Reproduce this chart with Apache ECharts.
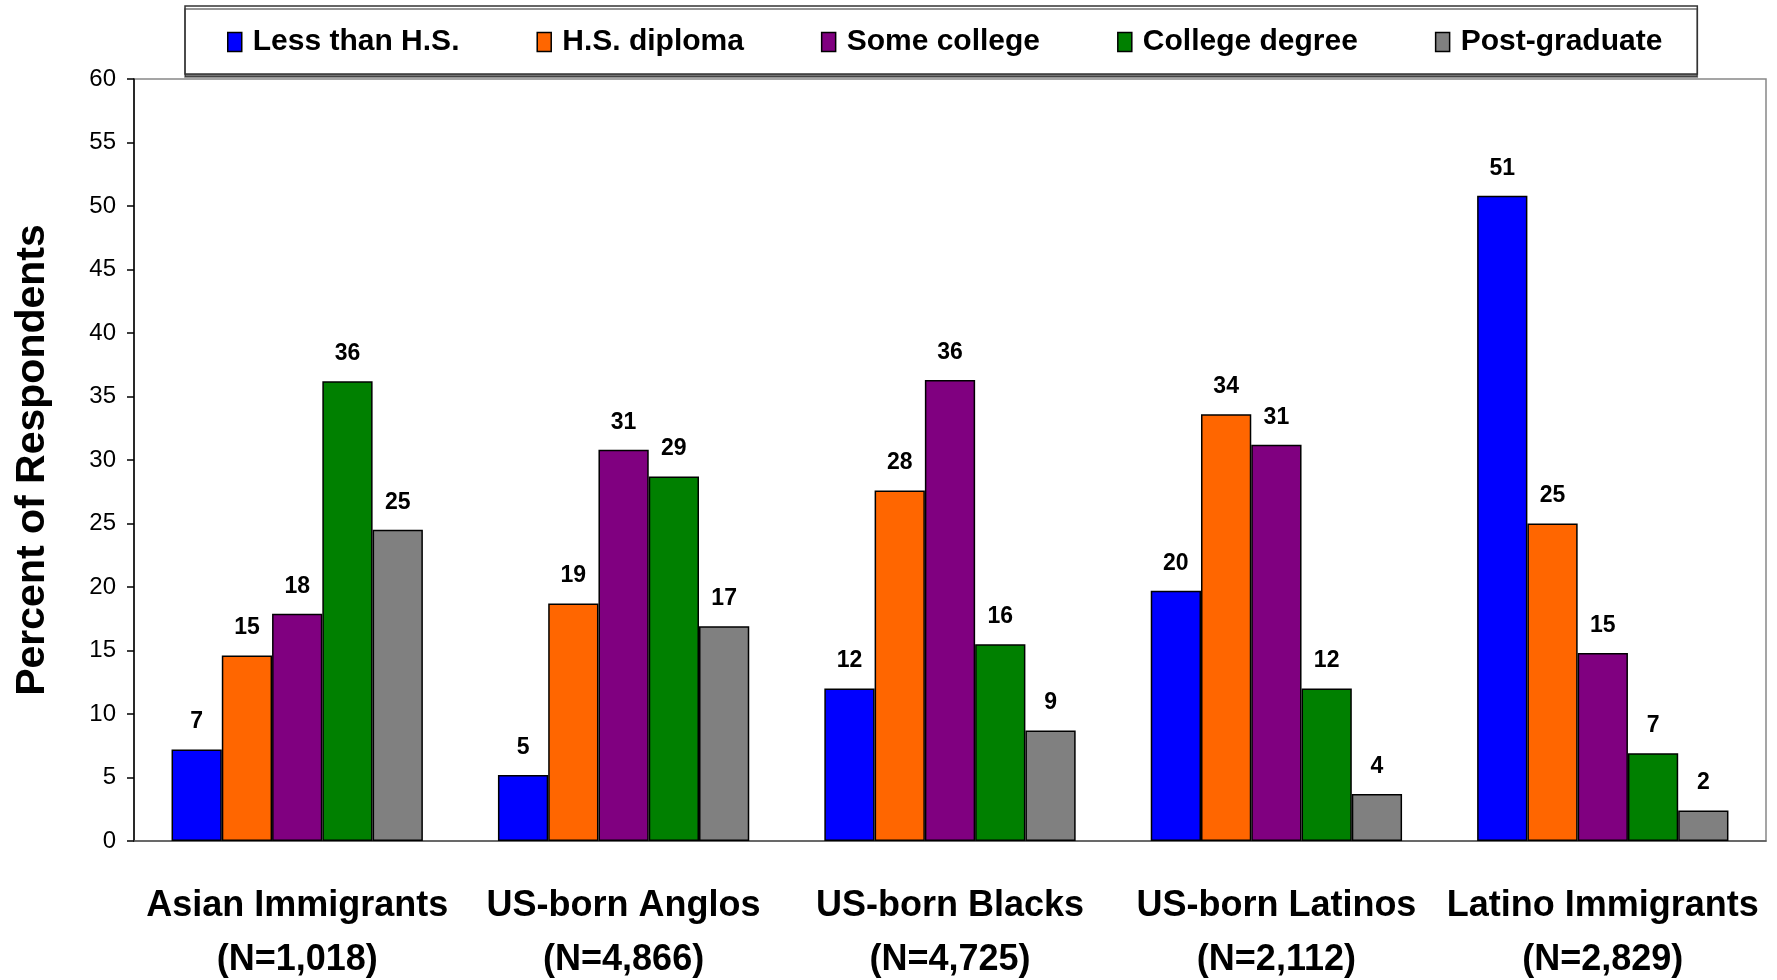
<!DOCTYPE html>
<html><head><meta charset="utf-8">
<script src="https://cdn.jsdelivr.net/npm/echarts@6/dist/echarts.min.js"></script>
<style>html,body{margin:0;padding:0;background:#fff}#c{width:1777px;height:980px}</style>
</head><body><div id="c"></div>
<script>
const categories = ['Asian Immigrants\n(N=1,018)', 'US-born Anglos\n(N=4,866)', 'US-born Blacks\n(N=4,725)', 'US-born Latinos\n(N=2,112)', 'Latino Immigrants\n(N=2,829)'];
const seriesNames = ['Less than H.S.', 'H.S. diploma', 'Some college', 'College degree', 'Post-graduate'];
const lessThanHS = [7.2, 5.2, 12.0, 19.7, 50.8];
const hsDiploma = [14.6, 18.7, 27.6, 33.6, 25.0];
const someCollege = [17.9, 30.8, 36.3, 31.2, 14.8];
const collegeDegree = [36.2, 28.7, 15.5, 12.0, 6.9];
const postGraduate = [24.5, 16.9, 8.7, 3.7, 2.4];
const yTicks = [0, 5, 10, 15, 20, 25, 30, 35, 40, 45, 50, 55, 60];

const colors = ['#0000FF', '#FF6600', '#800080', '#008000', '#808080'];
const values = [lessThanHS, hsDiploma, someCollege, collegeDegree, postGraduate];
const sans = "'Liberation Sans', Arial, sans-serif";

const chart = echarts.init(document.getElementById('c'), null, {renderer: 'canvas'});
chart.setOption({
  animation: false,
  backgroundColor: '#fff',
  color: colors,
  legend: {
    left: 185, top: 6,
    padding: [19, 35, 15, 42],
    itemGap: 77,
    itemWidth: 14, itemHeight: 19,
    borderColor: '#333', borderWidth: 1.5,
    shadowColor: 'rgba(0,0,0,0.55)', shadowOffsetY: 3,
    backgroundColor: '#fff',
    icon: 'rect',
    itemStyle: {borderColor: '#000', borderWidth: 1.5},
    textStyle: {fontFamily: sans, fontWeight: 'bold', fontSize: 30, color: '#000', lineHeight: 34, padding: [0, 0, 0, 6]},
    data: seriesNames
  },
  grid: {left: 134, right: 11, top: 79, bottom: 139, show: true, borderColor: '#888', borderWidth: 1.5,
    containLabel: false, outerBoundsMode: 'none'},
  xAxis: {
    type: 'category',
    data: categories,
    axisLine: {lineStyle: {color: '#555', width: 1.5}},
    axisTick: {show: false},
    axisLabel: {fontFamily: sans, fontWeight: 'bold', fontSize: 36, color: '#000', lineHeight: 54, margin: 38, interval: 0}
  },
  yAxis: {
    type: 'value', min: yTicks[0], max: yTicks[yTicks.length - 1], interval: 5,
    name: 'Percent of Respondents', nameLocation: 'middle', nameGap: 81, nameRotate: 90,
    nameTextStyle: {fontFamily: sans, fontWeight: 'bold', fontSize: 41, color: '#000'},
    axisLine: {show: true, lineStyle: {color: '#000', width: 1.5}},
    axisTick: {show: true, length: 7, lineStyle: {color: '#000', width: 1.5}},
    axisLabel: {fontFamily: sans, fontSize: 24, color: '#000', margin: 18},
    splitLine: {show: false}
  },
  series: seriesNames.map((n, i) => ({
    name: n, type: 'bar', data: values[i],
    barGap: '0%', barCategoryGap: '23%',
    itemStyle: {color: colors[i], borderColor: '#000', borderWidth: 1.5},
    label: {show: true, position: 'top', distance: 16, fontFamily: sans, fontWeight: 'bold', fontSize: 23, color: '#000',
      formatter: p => Math.round(p.value)}
  }))
});
</script></body></html>
